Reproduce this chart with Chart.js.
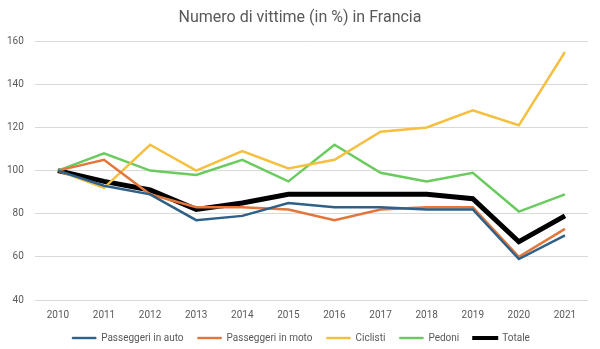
<!DOCTYPE html>
<html>
<head>
<meta charset="utf-8">
<script src="https://cdn.jsdelivr.net/npm/chart.js@4/dist/chart.umd.min.js"></script>
<style>
  html, body { margin: 0; padding: 0; background: #fff; }
  #wrap { width: 600px; height: 349px; }
</style>
</head>
<body>
<div id="wrap"><canvas id="chart" width="600" height="349"></canvas></div>
<script>
// anni
const years = ["2010", "2011", "2012", "2013", "2014", "2015", "2016", "2017", "2018", "2019", "2020", "2021"];

// valori (2010 = 100)
const auto = [100, 93, 89, 77, 79, 85, 83, 83, 82, 82, 59, 70];
const moto = [100, 105, 89, 83, 83, 82, 77, 82, 83, 83, 60, 73];
const ciclisti = [100, 92, 112, 100, 109, 101, 105, 118, 120, 128, 121, 155];
const pedoni = [100, 108, 100, 98, 105, 95, 112, 99, 95, 99, 81, 89];
const totale = [100, 95, 91, 82, 85, 89, 89, 89, 89, 87, 67, 79];

const yTicks = [40, 60, 80, 100, 120, 140, 160];

const grey = "#595959";
const font = "Roboto, 'Liberation Sans', sans-serif";

const line = (label, data, color, width) => ({
  label: label,
  data: data,
  borderColor: color,
  backgroundColor: color,
  borderWidth: width,
  pointRadius: 0,
  tension: 0,
  fill: false,
});

// titolo e legenda centrati sulla pagina, legenda un po' piu' in alto
const shiftBoxes = {
  id: "shiftBoxes",
  afterLayout(chart) {
    chart.legend.top -= 11;
    chart.legend.bottom -= 11;
    chart.legend.left += 9;
    chart.legend.right += 9;
    if (chart.titleBlock) {
      chart.titleBlock.left += 8;
      chart.titleBlock.right += 8;
    }
  },
};

const ctx = document.getElementById("chart").getContext("2d");
new Chart(ctx, {
  type: "line",
  data: {
    labels: years,
    datasets: [
      line("Passeggeri in auto", auto, "#2E6088", 2.5),
      line("Passeggeri in moto", moto, "#E3763A", 2.5),
      line("Ciclisti", ciclisti, "#F5BF3F", 2.5),
      line("Pedoni", pedoni, "#6ACB5E", 2.5),
      line("Totale", totale, "#000000", 5),
    ],
  },
  plugins: [shiftBoxes],
  options: {
    responsive: false,
    animation: false,
    layout: { padding: { left: -4, right: 12, top: 6, bottom: -15 } },
    plugins: {
      title: {
        display: true,
        text: "Numero di vittime (in %) in Francia",
        color: grey,
        font: { family: font, size: 16, weight: "normal" },
        padding: { top: 2, bottom: 14 },
      },
      legend: {
        position: "bottom",
        labels: {
          color: grey,
          font: { family: font, size: 10 },
          boxWidth: 24,
          boxHeight: 2,
          padding: 14,
          generateLabels: (chart) =>
            Chart.defaults.plugins.legend.labels.generateLabels(chart).map((l) => ({
              ...l,
              lineWidth: l.datasetIndex === 4 ? 2 : 0.4,
            })),
        },
      },
      tooltip: { enabled: false },
    },
    scales: {
      x: {
        offset: true,
        grid: { display: false, drawTicks: false },
        border: { display: false },
        ticks: { color: grey, font: { family: font, size: 10 }, maxRotation: 0, padding: 9 },
      },
      y: {
        min: 40,
        max: 160,
        afterBuildTicks: (axis) => { axis.ticks = yTicks.map((v) => ({ value: v })); },
        grid: { color: "#D9D9D9", lineWidth: 1, drawTicks: false },
        border: { display: false },
        ticks: { color: grey, font: { family: font, size: 10 }, padding: 11 },
      },
    },
  },
});
</script>
</body>
</html>
